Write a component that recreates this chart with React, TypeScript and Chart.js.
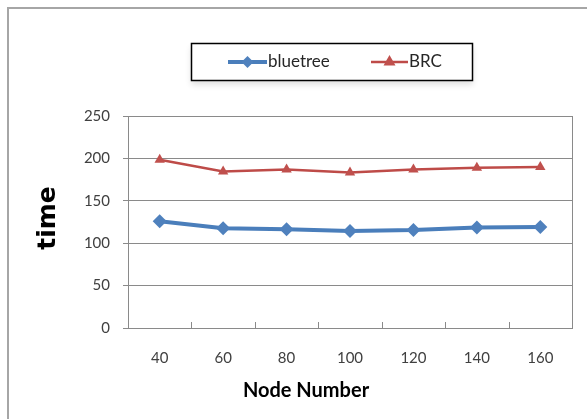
import React, { useEffect, useRef } from "react";
import { Chart, registerables } from "chart.js";

Chart.register(...registerables);

const categories = ["40", "60", "80", "100", "120", "140", "160"];
const bluetree = [126, 117.5, 116.5, 114.5, 115.5, 118.5, 119];
const brc = [198.5, 184.5, 187, 183.5, 187, 189, 190];
const seriesNames = ["bluetree", "BRC"];
const xTitle = "Node Number";
const yTitle = "time";

const BLUE_LINE = "#4a7ebb";
const BLUE_MARK = "#4f81bd";
const RED_LINE = "#be4b48";
const RED_MARK = "#c0504d";
const GRID = "#8a8a8a";
const TEXT = "#404040";

function drawDiamond(ctx: CanvasRenderingContext2D, x: number, y: number, r: number, color: string) {
  ctx.beginPath();
  ctx.moveTo(x, y - r);
  ctx.lineTo(x + r, y);
  ctx.lineTo(x, y + r);
  ctx.lineTo(x - r, y);
  ctx.closePath();
  ctx.fillStyle = color;
  ctx.fill();
}
function drawTriangle(ctx: CanvasRenderingContext2D, x: number, y: number, r: number, color: string) {
  ctx.beginPath();
  ctx.moveTo(x, y - r);
  ctx.lineTo(x + r, y + r * 0.75);
  ctx.lineTo(x - r, y + r * 0.75);
  ctx.closePath();
  ctx.fillStyle = color;
  ctx.fill();
}

const decorPlugin = {
  id: "decor",
  afterDraw(chart: any) {
    const ctx: CanvasRenderingContext2D = chart.ctx;
    const area = chart.chartArea;
    const xs = chart.scales.x;
    ctx.save();
    // right border of plot
    ctx.strokeStyle = GRID;
    ctx.lineWidth = 1;
    ctx.beginPath();
    ctx.moveTo(Math.round(area.right) + 0.5, area.top);
    ctx.lineTo(Math.round(area.right) + 0.5, area.bottom);
    ctx.stroke();
    // x tick marks (inward)
    const n = categories.length;
    const step = xs.getPixelForValue(1) - xs.getPixelForValue(0);
    for (let i = 1; i < n; i++) {
      const bx = Math.round(xs.getPixelForValue(i) - step / 2) + 0.5;
      ctx.beginPath();
      ctx.moveTo(bx, area.bottom);
      ctx.lineTo(bx, area.bottom - 6);
      ctx.stroke();
    }
    // axis titles
    ctx.fillStyle = "#000";
    ctx.textAlign = "center";
    ctx.textBaseline = "middle";
    ctx.font = "bold 20px Lato";
    ctx.fillText(xTitle, 306, 391);
    ctx.save();
    ctx.translate(48, 218);
    ctx.rotate(-Math.PI / 2);
    ctx.font = "bold 25px 'DejaVu Sans'";
    ctx.fillText(yTitle, 0, 0);
    ctx.restore();

    // legend box
    ctx.save();
    ctx.shadowColor = "rgba(0,0,0,0.12)";
    ctx.shadowBlur = 6;
    ctx.shadowOffsetY = 4;
    ctx.fillStyle = "#fff";
    ctx.fillRect(191, 43, 282, 38);
    ctx.restore();
    ctx.strokeStyle = "#000";
    ctx.lineWidth = 1.5;
    ctx.strokeRect(191.5, 43.5, 281, 37);

    const ly = 62;
    // bluetree
    ctx.strokeStyle = BLUE_LINE;
    ctx.lineWidth = 4;
    ctx.beginPath();
    ctx.moveTo(228, ly);
    ctx.lineTo(267, ly);
    ctx.stroke();
    drawDiamond(ctx, 247.5, ly, 6, BLUE_MARK);
    // BRC
    ctx.strokeStyle = RED_LINE;
    ctx.lineWidth = 2.5;
    ctx.beginPath();
    ctx.moveTo(371, ly);
    ctx.lineTo(408, ly);
    ctx.stroke();
    drawTriangle(ctx, 389.5, ly - 1, 6, RED_MARK);

    ctx.fillStyle = "#262626";
    ctx.font = "17px Lato";
    ctx.textAlign = "left";
    ctx.textBaseline = "middle";
    ctx.fillText(seriesNames[0], 268, ly);
    ctx.fillText(seriesNames[1], 409, ly);
    ctx.restore();
  },
};

export default function App() {
  const ref = useRef<HTMLCanvasElement>(null);
  useEffect(() => {
    if (!ref.current) return;
    const chart = new Chart(ref.current, {
      type: "line",
      data: {
        labels: categories,
        datasets: [
          {
            label: seriesNames[0],
            data: bluetree,
            borderColor: BLUE_LINE,
            backgroundColor: BLUE_MARK,
            borderWidth: 4,
            pointStyle: "rectRot",
            pointRadius: 7,
            pointBorderWidth: 0,
            pointBackgroundColor: BLUE_MARK,
            tension: 0,
          },
          {
            label: seriesNames[1],
            data: brc,
            borderColor: RED_LINE,
            backgroundColor: RED_MARK,
            borderWidth: 2.5,
            pointStyle: "triangle",
            pointRadius: 6,
            pointBorderWidth: 0,
            pointBackgroundColor: RED_MARK,
            tension: 0,
          },
        ],
      },
      options: {
        responsive: false,
        animation: false,
        devicePixelRatio: 1,
        layout: { padding: { top: 116, right: 15, left: 0, bottom: 0 } },
        plugins: { legend: { display: false }, tooltip: { enabled: false } },
        scales: {
          x: {
            type: "category",
            offset: true,
            grid: { drawOnChartArea: false, drawTicks: false, offset: true },
            border: { color: GRID, width: 1 },
            ticks: { color: TEXT, font: { family: "Lato", size: 15 }, padding: 21, maxRotation: 0 },
            afterFit: (s: any) => {
              s.height = 91;
            },
          },
          y: {
            min: 0,
            max: 250,
            ticks: { stepSize: 50, color: TEXT, font: { family: "Lato", size: 15 }, padding: 13 },
            grid: { color: GRID, tickLength: 5, lineWidth: 1 },
            border: { color: GRID, width: 1 },
            afterFit: (s: any) => {
              s.width = 128;
            },
          },
        },
      },
      plugins: [decorPlugin],
    });
    return () => chart.destroy();
  }, []);
  return (
    <div style={{ position: "absolute", left: 0, top: 0, width: 587, height: 419, background: "#fff" }}>
      <div
        style={{
          position: "absolute",
          left: 7,
          top: 7,
          width: 600,
          height: 430,
          borderLeft: "2px solid #a6a6a6",
          borderTop: "2px solid #a6a6a6",
        }}
      />
      <canvas ref={ref} width={587} height={419} style={{ position: "absolute", left: 0, top: 0 }} />
    </div>
  );
}
